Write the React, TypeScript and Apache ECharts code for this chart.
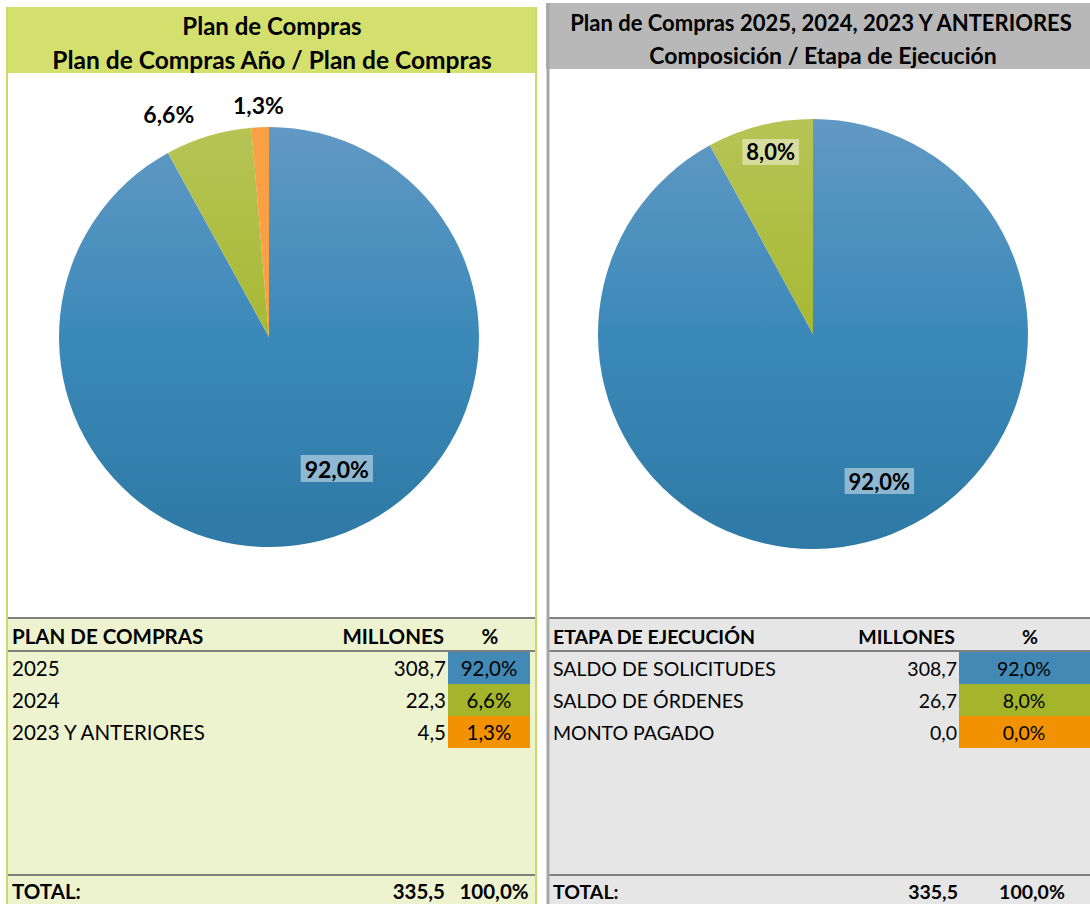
import React, { useEffect, useRef } from 'react';
import * as echarts from 'echarts';

// ---------- data ----------
const leftTitle = ['Plan de Compras', 'Plan de Compras Año / Plan de Compras'];
const rightTitle = ['Plan de Compras 2025, 2024, 2023 Y ANTERIORES', 'Composición / Etapa de Ejecución'];
const leftHeader = ['PLAN DE COMPRAS', 'MILLONES', '%'];
const rightHeader = ['ETAPA DE EJECUCIÓN', 'MILLONES', '%'];
const leftCategories = ['2025', '2024', '2023 Y ANTERIORES'];
const leftValues = [308.7, 22.3, 4.5];
const rightCategories = ['SALDO DE SOLICITUDES', 'SALDO DE ÓRDENES', 'MONTO PAGADO'];
const rightValues = [308.7, 26.7, 0.0];
const totalLabel = 'TOTAL:';
const leftTotal = 335.5;
const rightTotal = 335.5;
const totalPct = 100.0;

// ---------- styles ----------
const FONT = 'Lato, "Noto Sans", sans-serif';
const cellColors = ['#4389b6', '#a5b52b', '#f39200'];
const blueGrad = () =>
  new echarts.graphic.LinearGradient(0, 0, 0, 1, [
    { offset: 0, color: '#6199c4' },
    { offset: 0.5, color: '#3b89b9' },
    { offset: 1, color: '#2e79a5' },
  ]);
const greenGrad = () =>
  new echarts.graphic.LinearGradient(0, 0, 0, 1, [
    { offset: 0, color: '#b6c455' },
    { offset: 1, color: '#a7b934' },
  ]);
const sliceColors = () => [blueGrad(), greenGrad(), '#f8a043'];

const fmt = (n: number, d = 1) => n.toFixed(d).replace('.', ',');
const sum = (a: number[]) => a.reduce((s, v) => s + v, 0);

function pieSeries(values: number[], names: string[], center: number[], radius: number, offsets: number[][], fontSize: number) {
  const cols = sliceColors();
  const s = sum(values);
  return {
    type: 'pie',
    center,
    radius,
    startAngle: 90,
    clockwise: true,
    silent: true,
    minAngle: 0,
    avoidLabelOverlap: false,
    data: values.map((v, i) => ({
      name: names[i],
      value: v,
      itemStyle: { color: cols[i] },
      label: { show: v > 0 },
    })),
    label: {
      show: true,
      position: 'inside',
      formatter: (p: any) => fmt((p.value / s) * 100) + '%',
      fontFamily: FONT,
      fontSize,
      fontWeight: 'bold',
      color: '#000',
      backgroundColor: 'rgba(255,255,255,0.45)',
      padding: [3, 4, 1, 4],
    },
    labelLine: { show: false },
    labelLayout: (p: any) => {
      const o = offsets[p.dataIndex] || [0, 0];
      return { dx: o[0], dy: o[1] };
    },
    emphasis: { disabled: true },
  };
}

function txt(text: string, x: number, y: number, opts: any = {}) {
  return {
    type: 'text',
    x,
    y,
    z: 10,
    silent: true,
    style: {
      text,
      fontFamily: FONT,
      fontSize: opts.size || 19,
      fontWeight: opts.bold ? 'bold' : 'normal',
      fill: '#000',
      align: opts.align || 'left',
      verticalAlign: 'middle',
    },
  };
}
function rect(x: number, y: number, w: number, h: number, fill: string, z = 0) {
  return { type: 'rect', z, silent: true, shape: { x, y, width: w, height: h }, style: { fill } };
}
function hline(x1: number, x2: number, y: number, stroke: string, lw = 2) {
  return { type: 'line', z: 5, silent: true, shape: { x1, y1: y, x2, y2: y }, style: { stroke, lineWidth: lw } };
}
function vline(x: number, y1: number, y2: number, stroke: string, lw = 2) {
  return { type: 'line', z: 5, silent: true, shape: { x1: x, y1, x2: x, y2 }, style: { stroke, lineWidth: lw } };
}

function tableGraphics(
  cfg: {
    x0: number; x1: number; labelX: number; valRight: number; pctCenter: number;
    cellX: number; cellW: number; totValRight: number; totPctCenter: number;
    bg: string; header: string[]; cats: string[]; vals: number[]; total: number; hdrValRight: number; hdrPctCenter: number;
    size: number;
  }
) {
  const els: any[] = [];
  const s = sum(cfg.vals);
  const size = cfg.size;
  els.push(rect(cfg.x0, 618, cfg.x1 - cfg.x0, 286, cfg.bg, 0));
  els.push(hline(cfg.x0, cfg.x1, 618, '#7f7f7f'));
  els.push(hline(cfg.x0, cfg.x1, 651, '#7f7f7f'));
  els.push(hline(cfg.x0, cfg.x1, 875, '#7f7f7f'));
  els.push(txt(cfg.header[0], cfg.labelX, 636, { bold: true, size }));
  els.push(txt(cfg.header[1], cfg.hdrValRight, 636, { bold: true, align: 'right', size }));
  els.push(txt(cfg.header[2], cfg.hdrPctCenter, 636, { bold: true, align: 'center', size }));
  cfg.cats.forEach((c, i) => {
    const y = 652 + i * 32;
    els.push(rect(cfg.cellX, y, cfg.cellW, 32, cellColors[i], 1));
    els.push(txt(c, cfg.labelX, y + 16, { size }));
    els.push(txt(fmt(cfg.vals[i]), cfg.valRight, y + 16, { align: 'right', size }));
    els.push(txt(fmt((cfg.vals[i] / s) * 100) + '%', cfg.pctCenter, y + 16, { align: 'center', size }));
  });
  els.push(txt(totalLabel, cfg.labelX, 891, { bold: true, size }));
  els.push(txt(fmt(cfg.total), cfg.totValRight, 891, { bold: true, align: 'right', size }));
  els.push(txt(fmt(totalPct) + '%', cfg.totPctCenter, 891, { bold: true, align: 'center', size }));
  return els;
}

export default function App() {
  const ref = useRef<HTMLDivElement>(null);
  useEffect(() => {
    document.body.style.margin = '0';
    const chart = echarts.init(ref.current!, null, { renderer: 'svg' });
    const graphics: any[] = [
      // left panel
      rect(7, 7, 530, 66, '#d4e06d'),
      txt(leftTitle[0], 272, 25, { bold: true, size: 24, align: 'center' }),
      txt(leftTitle[1], 272, 59, { bold: true, size: 24.5, align: 'center' }),
      ...tableGraphics({
        x0: 8, x1: 536, labelX: 12, valRight: 446, pctCenter: 489, cellX: 448, cellW: 82,
        totValRight: 445, totPctCenter: 494, bg: '#eef3cf', header: leftHeader, cats: leftCategories,
        vals: leftValues, total: leftTotal, hdrValRight: 444, hdrPctCenter: 490, size: 20.5,
      }),
      vline(7, 7, 904, '#cbda66'),
      vline(536, 7, 904, '#cbda66'),
      // right panel
      rect(546, 3, 544, 66, '#b8b8b8'),
      txt(rightTitle[0], 821, 22, { bold: true, size: 22, align: 'center' }),
      txt(rightTitle[1], 823, 55, { bold: true, size: 23, align: 'center' }),
      ...tableGraphics({
        x0: 549, x1: 1090, labelX: 553, valRight: 957, pctCenter: 1024, cellX: 959, cellW: 131,
        totValRight: 958, totPctCenter: 1032, bg: '#e6e6e6', header: rightHeader, cats: rightCategories,
        vals: rightValues, total: rightTotal, hdrValRight: 955, hdrPctCenter: 1030, size: 19.5,
      }),
      vline(548, 3, 904, '#a6a6a6', 3),
    ];
    chart.setOption({
      animation: false,
      backgroundColor: '#ffffff',
      graphic: { elements: graphics },
      series: [
        pieSeries(leftValues, leftCategories, [269, 337], 210, [[41, 27], [-69, -120], [-6, -124]], 23),
        pieSeries(rightValues, rightCategories, [813, 334], 215, [[39, 40], [-15, -75], [0, 0]], 22),
      ],
    });
    return () => chart.dispose();
  }, []);
  return <div ref={ref} style={{ position: 'absolute', left: 0, top: 0, width: 1090, height: 904 }} />;
}
